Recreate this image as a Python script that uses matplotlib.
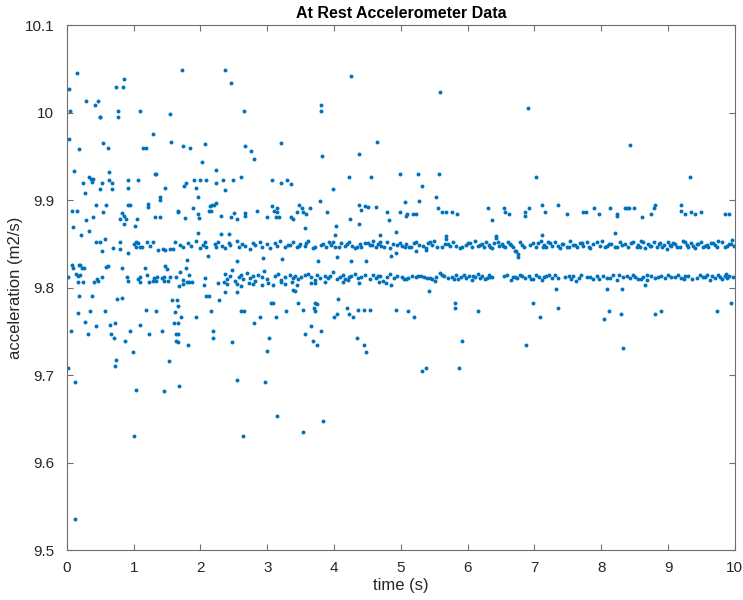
import matplotlib.pyplot as plt

# upper dense band (~9.85)
hi_t = [0.44, 0.49, 0.52, 0.57, 0.69, 0.80, 0.80, 0.92, 1.00, 1.03, 1.04, 1.06, 1.10, 1.12, 1.20, 1.24, 1.29, 1.37, 1.44, 1.47, 1.54, 1.59,
        1.62, 1.69, 1.74, 1.82, 1.86, 1.93, 1.99, 2.04, 2.07, 2.09, 2.22, 2.24, 2.27, 2.32, 2.37, 2.42, 2.44, 2.54, 2.57, 2.62,
        2.67, 2.74, 2.78, 2.82, 2.89, 2.92, 2.99, 3.04, 3.11, 3.14, 3.19, 3.26, 3.31,
        3.34, 3.39, 3.44, 3.49, 3.56, 3.61, 3.69, 3.84, 3.88, 3.93, 3.96, 4.08, 4.11, 4.16, 4.23, 4.31, 4.39, 4.41, 4.51, 4.54,
        4.59, 4.63, 4.66, 4.71, 4.79, 4.84, 4.94, 4.99, 5.06,
        5.08, 5.15, 5.23, 5.33, 5.37, 5.40, 5.46, 5.50, 5.61, 5.66, 5.68, 5.73, 5.78, 5.88, 5.98, 6.01, 6.06, 6.11, 6.15, 6.21,
        6.25, 6.28, 6.32, 6.37, 6.40, 6.43, 6.47, 6.51, 6.56, 6.61, 6.65, 6.68,
        6.71, 6.76, 6.78, 6.81, 6.98, 7.03, 7.10, 7.15, 7.18, 7.23, 7.27, 7.31, 7.38, 7.43, 7.48, 7.53, 7.58, 7.63, 7.68, 7.73,
        7.78, 7.83, 7.88, 7.98, 8.01, 8.05, 8.15, 8.20, 8.28,
        8.35, 8.40, 8.48, 8.53, 8.55, 8.60, 8.66, 8.70, 8.75, 8.79, 8.83, 8.88, 8.94, 8.98, 9.00, 9.05, 9.10, 9.14, 9.23, 9.28,
        9.30, 9.35, 9.40, 9.45, 9.50, 9.55, 9.60, 9.65, 9.70, 9.75, 9.85, 9.94, 9.96, 9.99]
hi_a = [9.852, 9.852, 9.842, 9.856, 9.845, 9.852, 9.844, 9.840, 9.850, 9.852, 9.846, 9.851, 9.847, 9.846, 9.852, 9.848, 9.852, 9.843, 9.844, 9.843, 9.844, 9.844,
        9.852, 9.849, 9.846, 9.851, 9.848, 9.853, 9.845, 9.849, 9.852, 9.847, 9.850, 9.846, 9.852, 9.848, 9.845, 9.851, 9.849, 9.853, 9.846, 9.850,
        9.848, 9.844, 9.851, 9.849, 9.852, 9.847, 9.850, 9.845, 9.851, 9.848, 9.853, 9.846, 9.849,
        9.849, 9.852, 9.846, 9.850, 9.848, 9.853, 9.845, 9.850, 9.847, 9.852, 9.849, 9.846, 9.851, 9.848, 9.852, 9.845, 9.850, 9.847, 9.851, 9.849,
        9.853, 9.846, 9.850, 9.848, 9.852, 9.845, 9.849, 9.851, 9.847,
        9.850, 9.847, 9.852, 9.848, 9.845, 9.851, 9.849, 9.853, 9.846, 9.850, 9.856, 9.848, 9.852, 9.845, 9.849, 9.851, 9.847, 9.853, 9.848, 9.850,
        9.846, 9.852, 9.849, 9.845, 9.851, 9.857, 9.848, 9.850, 9.846, 9.852, 9.849, 9.847,
        9.842, 9.838, 9.852, 9.849, 9.851, 9.847, 9.853, 9.849, 9.846, 9.851, 9.848, 9.852, 9.845, 9.850, 9.847, 9.853, 9.849, 9.846, 9.851, 9.848,
        9.852, 9.845, 9.850, 9.848, 9.853, 9.846, 9.850, 9.847, 9.852,
        9.850, 9.847, 9.852, 9.846, 9.849, 9.853, 9.845, 9.850, 9.848, 9.852, 9.846, 9.851, 9.849, 9.844, 9.852, 9.848, 9.850, 9.846, 9.853, 9.849,
        9.847, 9.851, 9.845, 9.850, 9.852, 9.848, 9.846, 9.851, 9.849, 9.853, 9.847, 9.850, 9.855, 9.848]

# more readings on the upper band, 3.4-10 s
hi2_t = [3.47, 3.58, 3.72, 3.81, 3.99, 4.02, 4.19, 4.27, 4.35, 4.47, 4.57, 4.69, 4.75, 4.88, 5.02, 5.12, 5.19, 5.27, 5.43, 5.54,
         5.71, 5.82, 5.92, 6.03, 6.18, 6.34, 6.45, 6.53, 6.63, 6.84, 6.93, 7.06, 7.13, 7.21, 7.35, 7.41, 7.51, 7.61, 7.71, 7.81,
         7.93, 8.09, 8.12, 8.24, 8.31, 8.45, 8.58, 8.63, 8.73, 8.86, 8.91, 9.03, 9.08, 9.18, 9.26, 9.38, 9.43, 9.53, 9.58, 9.68,
         9.73, 9.81, 9.88, 9.91]
hi2_a = [9.848, 9.851, 9.846, 9.849, 9.852, 9.847, 9.850, 9.848, 9.846, 9.851, 9.849, 9.852, 9.847, 9.850, 9.848, 9.846, 9.851, 9.849, 9.852, 9.847,
         9.850, 9.848, 9.846, 9.851, 9.849, 9.847, 9.852, 9.848, 9.850, 9.846, 9.849, 9.851, 9.847, 9.852, 9.848, 9.850, 9.846, 9.849, 9.851, 9.847,
         9.852, 9.848, 9.850, 9.846, 9.849, 9.851, 9.847, 9.852, 9.848, 9.850, 9.846, 9.849, 9.851, 9.847, 9.852, 9.848, 9.850, 9.846, 9.849, 9.851,
         9.847, 9.852, 9.848, 9.850]

# lower dense band (~9.81)
lo_t = [1.64, 1.69, 1.74, 1.79, 1.83, 1.87, 2.07, 2.36, 2.39, 2.44, 2.47, 2.51, 2.57, 2.61, 2.64, 2.69, 2.74, 2.79, 2.81, 2.86,
        2.92, 2.95, 3.00, 3.11, 3.16, 3.21, 3.26, 3.34, 3.39,
        3.41, 3.46, 3.61, 3.66, 3.71, 3.74, 3.91, 3.94, 3.99, 4.04, 4.09, 4.14, 4.21, 4.26, 4.31, 4.36, 4.41, 4.54, 4.59, 4.69,
        4.74, 4.79, 4.84, 4.89, 4.94, 5.04,
        5.11, 5.16, 5.23, 5.30, 5.35, 5.43, 5.47, 5.51, 5.53, 5.58, 5.65, 5.70, 5.83, 5.86, 5.90, 5.95, 5.98, 6.02, 6.06, 6.11,
        6.15, 6.18, 6.22, 6.26, 6.32, 6.37, 6.55, 6.65, 6.68,
        6.71, 6.78, 6.86, 6.92, 6.98, 7.02, 7.07, 7.11, 7.18, 7.26, 7.31, 7.46, 7.55, 7.58, 7.62, 7.66, 7.70, 7.83, 7.88, 7.93,
        8.08, 8.18, 8.23, 8.33,
        8.38, 8.43, 8.48, 8.55, 8.63, 8.68, 8.69, 8.85, 8.90, 8.95, 9.00, 9.10, 9.24, 9.25, 9.43, 9.48, 9.55, 9.63, 9.66, 9.70,
        9.75, 9.78, 9.81, 9.85, 9.87, 9.97]
lo_a = [9.812, 9.818, 9.809, 9.822, 9.814, 9.806, 9.811, 9.816, 9.810, 9.813, 9.820, 9.808, 9.812, 9.815, 9.810, 9.817, 9.811, 9.813, 9.808, 9.814,
        9.812, 9.819, 9.810, 9.813, 9.816, 9.809, 9.812, 9.815, 9.811,
        9.813, 9.810, 9.816, 9.812, 9.809, 9.815, 9.811, 9.813, 9.818, 9.810, 9.812, 9.814, 9.809, 9.813, 9.816, 9.811, 9.812, 9.810, 9.815, 9.813,
        9.808, 9.812, 9.816, 9.811, 9.813, 9.810,
        9.811, 9.813, 9.812, 9.813, 9.812, 9.811, 9.810, 9.808, 9.812, 9.817, 9.813, 9.811, 9.814, 9.810, 9.812, 9.815, 9.811, 9.813, 9.809, 9.812,
        9.816, 9.811, 9.813, 9.810, 9.814, 9.812, 9.813, 9.809, 9.812,
        9.812, 9.814, 9.811, 9.813, 9.810, 9.815, 9.812, 9.809, 9.813, 9.811, 9.814, 9.812, 9.810, 9.813, 9.808, 9.811, 9.815, 9.812, 9.810, 9.813,
        9.811, 9.814, 9.809, 9.812,
        9.813, 9.811, 9.814, 9.810, 9.812, 9.815, 9.809, 9.812, 9.813, 9.811, 9.814, 9.812, 9.810, 9.813, 9.811, 9.815, 9.812, 9.809, 9.813, 9.811,
        9.814, 9.812, 9.810, 9.813, 9.816, 9.812]

# more readings on the lower band, 3.5-10 s
lo2_t = [3.51, 3.56, 3.79, 3.86, 4.17, 4.23, 4.46, 4.63, 4.66, 5.01, 5.08, 5.26, 5.39, 5.61, 5.76, 5.79, 6.08, 6.29, 6.34, 6.59,
         6.74, 6.81, 6.95, 7.14, 7.22, 7.36, 7.51, 7.78, 7.97, 8.02, 8.13, 8.27, 8.51, 8.59, 8.75, 8.80, 9.05, 9.15, 9.19, 9.30,
         9.36, 9.52, 9.59, 9.89, 9.92]
lo2_a = [9.812, 9.814, 9.811, 9.813, 9.810, 9.812, 9.814, 9.811, 9.813, 9.812, 9.810, 9.813, 9.811, 9.814, 9.812, 9.810, 9.813, 9.811, 9.812, 9.814,
         9.811, 9.813, 9.810, 9.812, 9.814, 9.811, 9.813, 9.812, 9.810, 9.813, 9.811, 9.814, 9.812, 9.810, 9.813, 9.811, 9.812, 9.814, 9.811, 9.813,
         9.810, 9.812, 9.814, 9.811, 9.813]

# scattered readings, 0-1.7 s
early_t = [0.035, 0.145, 0.74, 0.84, 0.853, 0.29, 0.42, 0.47, 0.05, 0.49, 0.50, 0.77, 0.77, 1.09, 1.54, 1.29, 0.035, 0.18, 0.54, 0.61, 1.14, 1.19, 1.56,
           0.105, 0.33, 0.36, 0.39, 0.38, 0.24, 0.27, 0.53, 0.63, 0.63, 0.68, 0.50, 0.68, 0.92, 1.07, 0.92, 1.32, 1.34, 1.47, 1.39, 1.40,
           0.44, 0.58, 0.07, 0.15, 0.92, 0.95, 1.22, 1.22, 0.54, 0.82, 0.85, 0.80, 0.88, 0.86, 1.32, 1.39, 1.05, 1.66, 0.39, 0.28, 0.085, 0.33, 1.02, 0.21,
           0.08, 0.09, 0.18, 0.20, 0.22, 0.26, 0.13, 0.16, 0.19, 0.17, 0.02, 0.58, 0.61, 0.53, 0.45, 0.82, 0.90, 1.07, 1.10, 1.17, 1.20, 1.30, 1.35,
           1.42, 1.45, 1.47, 1.50, 1.55,
           0.24, 0.41, 0.46, 0.92, 1.09, 1.23, 1.29, 1.34, 1.45, 1.51,
           0.06, 0.17, 0.18, 0.37, 0.27, 0.32, 0.35, 0.43, 0.57, 0.65, 0.72, 0.66, 0.70, 0.75, 0.83, 0.87, 0.95, 1.10, 1.18, 1.23, 1.34, 1.42,
           1.58, 1.62, 1.60, 1.63, 1.64,
           0.02, 0.12, 0.12, 1.04, 1.00, 1.46, 1.68, 0.72, 0.73, 0.99, 1.53]
early_a = [10.027, 10.045, 10.029, 10.029, 10.039, 10.013, 10.009, 10.013, 10.002, 9.995, 9.995, 10.002, 9.995, 10.002, 9.998, 9.976, 9.970, 9.959, 9.965, 9.960, 9.960, 9.960, 9.966,
           9.933, 9.927, 9.924, 9.924, 9.921, 9.920, 9.908, 9.920, 9.932, 9.923, 9.920, 9.913, 9.913, 9.923, 9.923, 9.914, 9.930, 9.930, 9.914, 9.904, 9.900,
           9.895, 9.895, 9.888, 9.888, 9.895, 9.895, 9.896, 9.892, 9.886, 9.885, 9.882, 9.878, 9.878, 9.873, 9.881, 9.881, 9.878, 9.887, 9.881, 9.877, 9.869, 9.865, 9.870, 9.860,
           9.826, 9.823, 9.826, 9.826, 9.823, 9.822, 9.816, 9.813, 9.814, 9.807, 9.812, 9.824, 9.825, 9.812, 9.810, 9.822, 9.812, 9.810, 9.812, 9.822, 9.815, 9.811, 9.812,
           9.811, 9.812, 9.825, 9.821, 9.812,
           9.806, 9.806, 9.808, 9.808, 9.806, 9.806, 9.808, 9.808, 9.808, 9.808,
           9.751, 9.771, 9.790, 9.790, 9.761, 9.747, 9.773, 9.756, 9.773, 9.757, 9.760, 9.747, 9.743, 9.787, 9.788, 9.739, 9.751, 9.757, 9.775, 9.747, 9.773, 9.751,
           9.786, 9.772, 9.760, 9.747, 9.739,
           9.708, 9.692, 9.536, 9.683, 9.630, 9.682, 9.688, 9.711, 9.717, 9.727, 9.716]

# scattered readings, 1.7-5.1 s
mid_t = [1.73, 2.37, 2.45, 2.65, 1.74, 1.85, 2.07, 2.66, 2.75, 2.80, 3.21, 2.02, 2.23,
         1.76, 1.79, 1.91, 1.99, 2.09, 2.23, 2.34, 2.49, 2.60, 1.93, 2.36, 1.96, 3.07, 3.20, 3.29, 3.36,
         1.66, 1.77, 1.89, 1.97, 1.98, 2.14, 2.17, 2.20, 2.24, 2.13, 2.16, 2.31, 2.46, 2.50, 2.55, 2.66, 2.67, 2.85, 3.00, 3.07,
         3.10, 3.14, 3.15, 3.17, 3.13, 3.36, 3.38, 1.97, 2.30, 2.42,
         1.65, 1.66, 1.71, 1.66, 1.66, 1.67, 1.82, 1.93, 2.09, 2.13, 2.16, 2.19, 2.19, 2.28, 2.37, 2.47, 2.54, 2.55, 2.60, 2.65,
         2.63, 2.80, 2.89, 2.96, 2.99, 3.03, 3.06, 3.09, 3.13, 3.15, 3.28, 3.39,
         1.68, 1.74, 1.80, 1.83, 2.05, 2.26, 2.35, 2.40, 2.55, 2.61, 2.72, 2.78, 2.92, 3.01, 3.08, 3.20, 3.27,
         1.80, 2.11, 2.55, 2.93, 3.22,
         4.26, 3.80, 3.81, 3.82, 4.64, 4.37, 4.23, 4.56, 4.99, 3.98, 3.79,
         3.48, 3.45, 3.52, 3.54, 3.58, 3.64, 3.89, 4.24, 4.37, 4.41, 4.46, 4.51, 4.63, 4.80, 4.83, 4.98, 5.06, 5.08, 4.38, 4.03,
         4.93, 3.57, 4.02, 4.69,
         3.76, 4.04, 4.26, 4.48, 4.86, 4.92,
         3.37, 3.45, 3.66, 3.71, 3.86, 4.13, 4.37, 4.68, 4.78, 4.86,
         3.41, 3.46, 3.53, 3.71, 3.75, 3.70, 3.71, 4.06, 4.00, 4.05, 4.20, 4.22, 4.29, 4.36, 4.45, 4.54, 4.93, 3.66, 3.80, 3.56,
         3.69, 3.74, 4.35, 4.45, 4.48, 3.83, 3.54]
mid_a = [10.049, 10.049, 10.034, 10.002, 9.962, 9.960, 9.964, 9.962, 9.956, 9.947, 9.965, 9.944, 9.934,
         9.916, 9.920, 9.923, 9.923, 9.923, 9.920, 9.923, 9.923, 9.927, 9.914, 9.912, 9.904, 9.923, 9.920, 9.923, 9.919,
         9.888, 9.880, 9.891, 9.884, 9.880, 9.893, 9.895, 9.895, 9.897, 9.888, 9.888, 9.882, 9.881, 9.885, 9.879, 9.885, 9.882, 9.888, 9.881, 9.893,
         9.888, 9.891, 9.887, 9.881, 9.881, 9.881, 9.878, 9.862, 9.861, 9.861,
         9.786, 9.779, 9.767, 9.760, 9.747, 9.738, 9.734, 9.766, 9.790, 9.790, 9.773, 9.751, 9.743, 9.786, 9.795, 9.738, 9.795, 9.695, 9.773, 9.773,
         9.630, 9.760, 9.767, 9.692, 9.728, 9.743, 9.782, 9.782, 9.767, 9.653, 9.773, 9.797,
         9.802, 9.804, 9.806, 9.806, 9.803, 9.805, 9.806, 9.804, 9.804, 9.802, 9.805, 9.804, 9.803, 9.805, 9.803, 9.806, 9.804,
         9.832, 9.836, 9.830, 9.834, 9.833,
         10.042, 10.009, 10.002, 9.950, 9.966, 9.953, 9.927, 9.927, 9.930, 9.913, 9.899,
         9.895, 9.887, 9.891, 9.886, 9.884, 9.891, 9.887, 9.878, 9.894, 9.889, 9.893, 9.892, 9.892, 9.887, 9.877, 9.887, 9.898, 9.882, 9.873, 9.871,
         9.864, 9.868, 9.860, 9.860,
         9.831, 9.835, 9.831, 9.831, 9.836, 9.840,
         9.806, 9.803, 9.805, 9.805, 9.806, 9.806, 9.805, 9.806, 9.805, 9.803,
         9.796, 9.782, 9.775, 9.782, 9.781, 9.777, 9.773, 9.787, 9.767, 9.770, 9.777, 9.770, 9.767, 9.774, 9.774, 9.774, 9.774, 9.756, 9.751, 9.747,
         9.739, 9.734, 9.743, 9.735, 9.727, 9.648, 9.635]

# scattered readings, 5.1-10 s
late_t = [5.59, 5.25, 5.57, 5.31, 5.53, 5.27, 5.09, 5.18, 5.22, 5.56, 5.62, 5.68, 5.76, 5.84, 6.30, 6.37, 6.54, 6.56, 6.62,
          6.90, 7.02, 6.86, 6.86, 6.92, 7.11, 7.16, 7.36, 7.48,
          7.72, 7.77, 7.89, 7.97, 8.13, 8.23, 8.24, 8.38, 8.43, 8.35, 8.42, 8.49, 8.61, 8.75, 8.79, 8.80, 9.20, 9.20, 9.25, 9.35,
          9.40, 9.50, 9.85, 9.91, 9.33,
          5.68, 6.43, 5.22, 5.38, 6.73, 6.76, 7.11, 8.20,
          5.42, 7.32, 8.08, 8.31, 8.65,
          5.10, 5.20, 5.81, 5.81, 6.15, 6.98, 7.08, 7.35, 5.92, 6.88, 5.32, 5.37, 5.87,
          8.04, 8.11, 8.29, 8.33, 8.81, 8.89, 9.74, 9.94]
late_a = [10.024, 9.930, 9.930, 9.916, 9.904, 9.899, 9.884, 9.884, 9.884, 9.891, 9.887, 9.887, 9.887, 9.884, 9.891, 9.877, 9.891, 9.887, 9.884,
          10.005, 9.927, 9.887, 9.882, 9.891, 9.895, 9.887, 9.895, 9.884,
          9.887, 9.887, 9.891, 9.884, 9.891, 9.884, 9.882, 9.891, 9.963, 9.891, 9.891, 9.891, 9.881, 9.884, 9.891, 9.895, 9.895, 9.888, 9.884, 9.887,
          9.884, 9.887, 9.884, 9.884, 9.927,
          9.859, 9.859, 9.842, 9.843, 9.842, 9.835, 9.860, 9.862,
          9.796, 9.799, 9.799, 9.799, 9.803,
          9.773, 9.766, 9.782, 9.777, 9.773, 9.782, 9.766, 9.777, 9.739, 9.734, 9.705, 9.708, 9.708,
          9.764, 9.773, 9.770, 9.731, 9.770, 9.773, 9.773, 9.782]

dot_color = "#0072BD"
axis_color = "#6e6e6e"

plt.rcParams["font.family"] = ["Liberation Sans", "DejaVu Sans"]

fig = plt.figure(figsize=(7.43, 6.00), dpi=100)
ax = fig.add_axes([0.090, 0.083, 0.899, 0.875])

groups = [(hi_t, hi_a), (hi2_t, hi2_a), (lo_t, lo_a), (lo2_t, lo2_a),
          (early_t, early_a), (mid_t, mid_a), (late_t, late_a)]
for t, a in groups:
    ax.scatter(t, a, s=8, color=dot_color, linewidths=0)

ax.set_xlim(0, 10)
ax.set_ylim(9.5, 10.1)
ax.set_xticks(range(0, 11))
ax.set_yticks([9.5, 9.6, 9.7, 9.8, 9.9, 10.0, 10.1])
ax.set_yticklabels(["9.5", "9.6", "9.7", "9.8", "9.9", "10", "10.1"])
ax.tick_params(direction="in", length=4, width=0.8, colors="#262626", labelsize=11,
               top=True, right=True, color=axis_color)
ax.tick_params(axis="x", pad=8)
ax.tick_params(axis="y", pad=9)
for side in ax.spines.values():
    side.set_color(axis_color)
    side.set_linewidth(0.8)

ax.set_title("At Rest Accelerometer Data", fontsize=11.5, fontweight="bold", pad=5)
ax.set_xlabel("time (s)", fontsize=12, color="#262626", labelpad=2)
ax.set_ylabel("acceleration (m2/s)", fontsize=12, color="#262626", labelpad=1)

fig.savefig("out.png", dpi=100)
